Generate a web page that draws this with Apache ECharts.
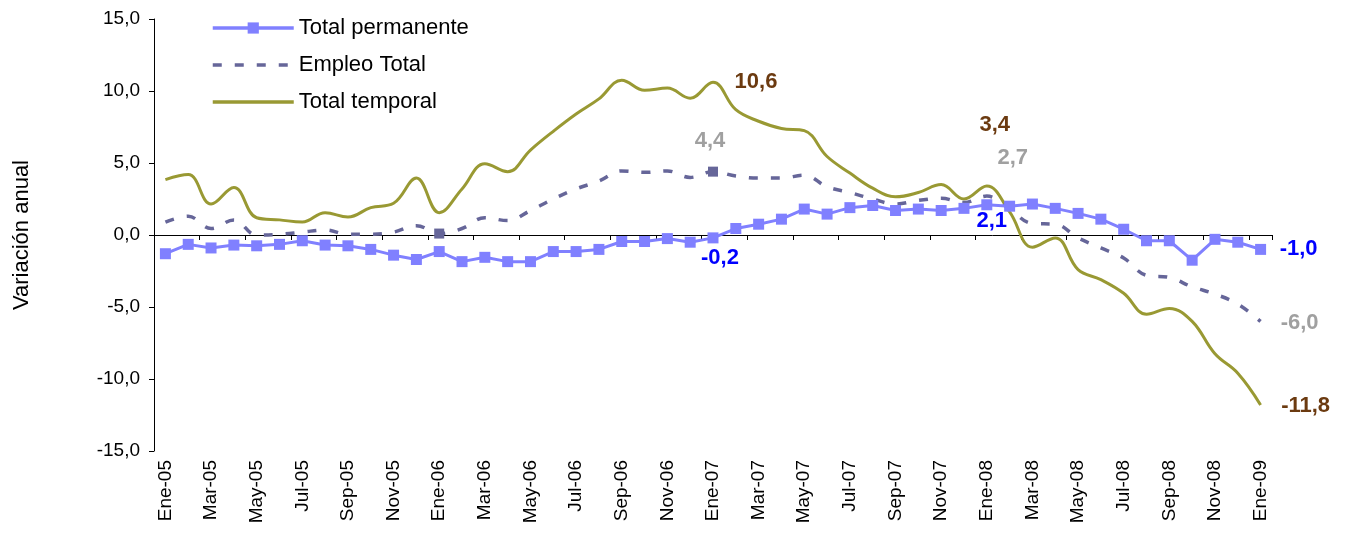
<!DOCTYPE html>
<html>
<head>
<meta charset="utf-8">
<script src="https://cdn.jsdelivr.net/npm/echarts@6/dist/echarts.min.js"></script>
<style>
  html, body { margin: 0; padding: 0; background: #fff; }
  #chart { width: 1348px; height: 535px; }
</style>
</head>
<body>
<div id="chart"></div>
<script>
// meses (eje X)
const meses = [
  'Ene-05', 'Feb-05', 'Mar-05', 'Abr-05', 'May-05', 'Jun-05', 'Jul-05', 'Ago-05', 'Sep-05', 'Oct-05', 'Nov-05', 'Dic-05',
  'Ene-06', 'Feb-06', 'Mar-06', 'Abr-06', 'May-06', 'Jun-06', 'Jul-06', 'Ago-06', 'Sep-06', 'Oct-06', 'Nov-06', 'Dic-06',
  'Ene-07', 'Feb-07', 'Mar-07', 'Abr-07', 'May-07', 'Jun-07', 'Jul-07', 'Ago-07', 'Sep-07', 'Oct-07', 'Nov-07', 'Dic-07',
  'Ene-08', 'Feb-08', 'Mar-08', 'Abr-08', 'May-08', 'Jun-08', 'Jul-08', 'Ago-08', 'Sep-08', 'Oct-08', 'Nov-08', 'Dic-08',
  'Ene-09'
];

// variación anual (%)
const totalPermanente = [
  -1.3, -0.65, -0.9, -0.7, -0.75, -0.65, -0.4, -0.7, -0.75, -1.0, -1.4, -1.7,
  -1.15, -1.85, -1.55, -1.85, -1.85, -1.15, -1.15, -1.0, -0.45, -0.45, -0.25, -0.5,
  -0.2, 0.45, 0.75, 1.1, 1.8, 1.45, 1.9, 2.05, 1.7, 1.8, 1.7, 1.85,
  2.1, 2.0, 2.15, 1.85, 1.5, 1.1, 0.4, -0.4, -0.4, -1.75, -0.3, -0.5,
  -1.0
];
const empleoTotal = [
  0.9, 1.3, 0.45, 1.05, 0.0, 0.05, 0.2, 0.35, 0.05, 0.05, 0.2, 0.65,
  0.1, 0.45, 1.2, 1.0, 1.7, 2.5, 3.2, 3.75, 4.45, 4.35, 4.45, 4.0,
  4.4, 4.1, 3.95, 3.95, 4.15, 3.35, 2.95, 2.5, 2.15, 2.4, 2.55, 2.25,
  2.7, 1.8, 0.8, 0.75, -0.2, -0.9, -1.6, -2.8, -2.95, -3.6, -4.1, -4.8,
  -6.0
];
const totalTemporal = [
  3.85, 4.2, 2.15, 3.3, 1.2, 1.05, 0.9, 1.55, 1.25, 1.9, 2.2, 3.95,
  1.55, 3.2, 4.95, 4.4, 5.9, 7.2, 8.4, 9.45, 10.75, 10.05, 10.2, 9.5,
  10.6, 8.7, 7.9, 7.4, 7.25, 5.45, 4.3, 3.25, 2.65, 2.95, 3.5, 2.5,
  3.4, 1.6, -0.85, -0.2, -2.4, -3.1, -4.05, -5.5, -5.1, -6.0, -8.25, -9.6,
  -11.8
];

// meses con rótulo de valor y meses con marca en "Empleo Total"
const mesesRotulados = ['Ene-07', 'Ene-08', 'Ene-09'];
const mesesConMarca = ['Ene-06', 'Ene-07'];

const FONT = '"Liberation Sans", Arial, sans-serif';
const fmt = (v) => v.toFixed(1).replace('.', ',');

// arma los puntos de una serie con los rótulos (desplazamiento en px por mes rotulado)
function puntos(valores, desplazamientos, color, conSimbolo) {
  return valores.map((v, i) => {
    const item = { value: v };
    const k = mesesRotulados.indexOf(meses[i]);
    if (k >= 0) {
      if (!conSimbolo) {
        item.symbol = 'circle';
        item.symbolSize = 0;
      }
      item.label = {
        show: true,
        position: 'inside',
        offset: desplazamientos[k],
        color: color,
        fontSize: 22,
        fontWeight: 'bold',
        fontFamily: FONT,
        formatter: (p) => fmt(p.value)
      };
    }
    return item;
  });
}

const datosPermanente = puntos(totalPermanente, [[7, 20], [5, 16], [38, 0]], '#0000ff', true);
const datosEmpleo = puntos(empleoTotal, [[-3, -31], [26, -38], [39, 2]], '#a0a0a0', false);
datosEmpleo.forEach((d, i) => {
  if (mesesConMarca.indexOf(meses[i]) >= 0) {
    d.symbol = 'rect';
    d.symbolSize = 10;
  }
});
const datosTemporal = puntos(totalTemporal, [[43, 0], [8, -61], [45, 1]], '#6b3a10', false);

const chart = echarts.init(document.getElementById('chart'));
chart.setOption({
  animation: false,
  backgroundColor: '#fff',
  grid: { left: 154, right: 76, top: 19, bottom: 84, containLabel: false },
  legend: {
    orient: 'vertical',
    left: 206,
    top: 12,
    itemWidth: 81,
    itemHeight: 14,
    itemGap: 15,
    lineStyle: { width: 3.5 },
    textStyle: { fontSize: 22, fontFamily: FONT, color: '#000' },
    data: [
      { name: 'Total permanente' },
      { name: 'Empleo Total', itemStyle: { opacity: 0 } },
      { name: 'Total temporal', itemStyle: { opacity: 0 } }
    ]
  },
  xAxis: [
    {
      type: 'category',
      data: meses,
      position: 'bottom',
      boundaryGap: true,
      axisLine: { show: false, onZero: false },
      axisTick: { show: false },
      axisLabel: { interval: 1, rotate: 90, margin: 9, fontSize: 19, fontFamily: FONT, color: '#000' }
    },
    {
      // línea del eje en 0 con marcas cada dos meses
      type: 'category',
      data: meses,
      position: 'top',
      boundaryGap: true,
      axisLine: { show: true, onZero: true, lineStyle: { color: '#000', width: 1 } },
      axisTick: { show: true, interval: 1, inside: true, length: 5, lineStyle: { color: '#000' } },
      axisLabel: { show: false }
    }
  ],
  yAxis: {
    type: 'value',
    min: -15,
    max: 15,
    interval: 5,
    name: 'Variación anual',
    nameLocation: 'middle',
    nameGap: 121,
    nameTextStyle: { fontSize: 22, fontFamily: FONT, color: '#000' },
    axisLine: { show: true, onZero: false, lineStyle: { color: '#000', width: 1 } },
    axisTick: { show: true, length: 5, lineStyle: { color: '#000' } },
    splitLine: { show: false },
    axisLabel: { formatter: (v) => fmt(v), fontSize: 19, margin: 14, fontFamily: FONT, color: '#000' }
  },
  series: [
    {
      name: 'Total permanente',
      type: 'line',
      xAxisIndex: 0,
      data: datosPermanente,
      symbol: 'rect',
      symbolSize: 11,
      lineStyle: { color: '#8080ff', width: 3 },
      itemStyle: { color: '#8080ff' },
      z: 4
    },
    {
      name: 'Empleo Total',
      type: 'line',
      xAxisIndex: 0,
      data: datosEmpleo,
      symbol: 'none',
      smooth: 0.4,
      lineStyle: { color: '#666699', width: 3.5, type: [9, 13] },
      itemStyle: { color: '#666699' },
      z: 3
    },
    {
      name: 'Total temporal',
      type: 'line',
      xAxisIndex: 0,
      data: datosTemporal,
      symbol: 'none',
      smooth: 0.4,
      lineStyle: { color: '#999933', width: 3 },
      itemStyle: { color: '#999933' },
      z: 2
    }
  ]
});
</script>
</body>
</html>
